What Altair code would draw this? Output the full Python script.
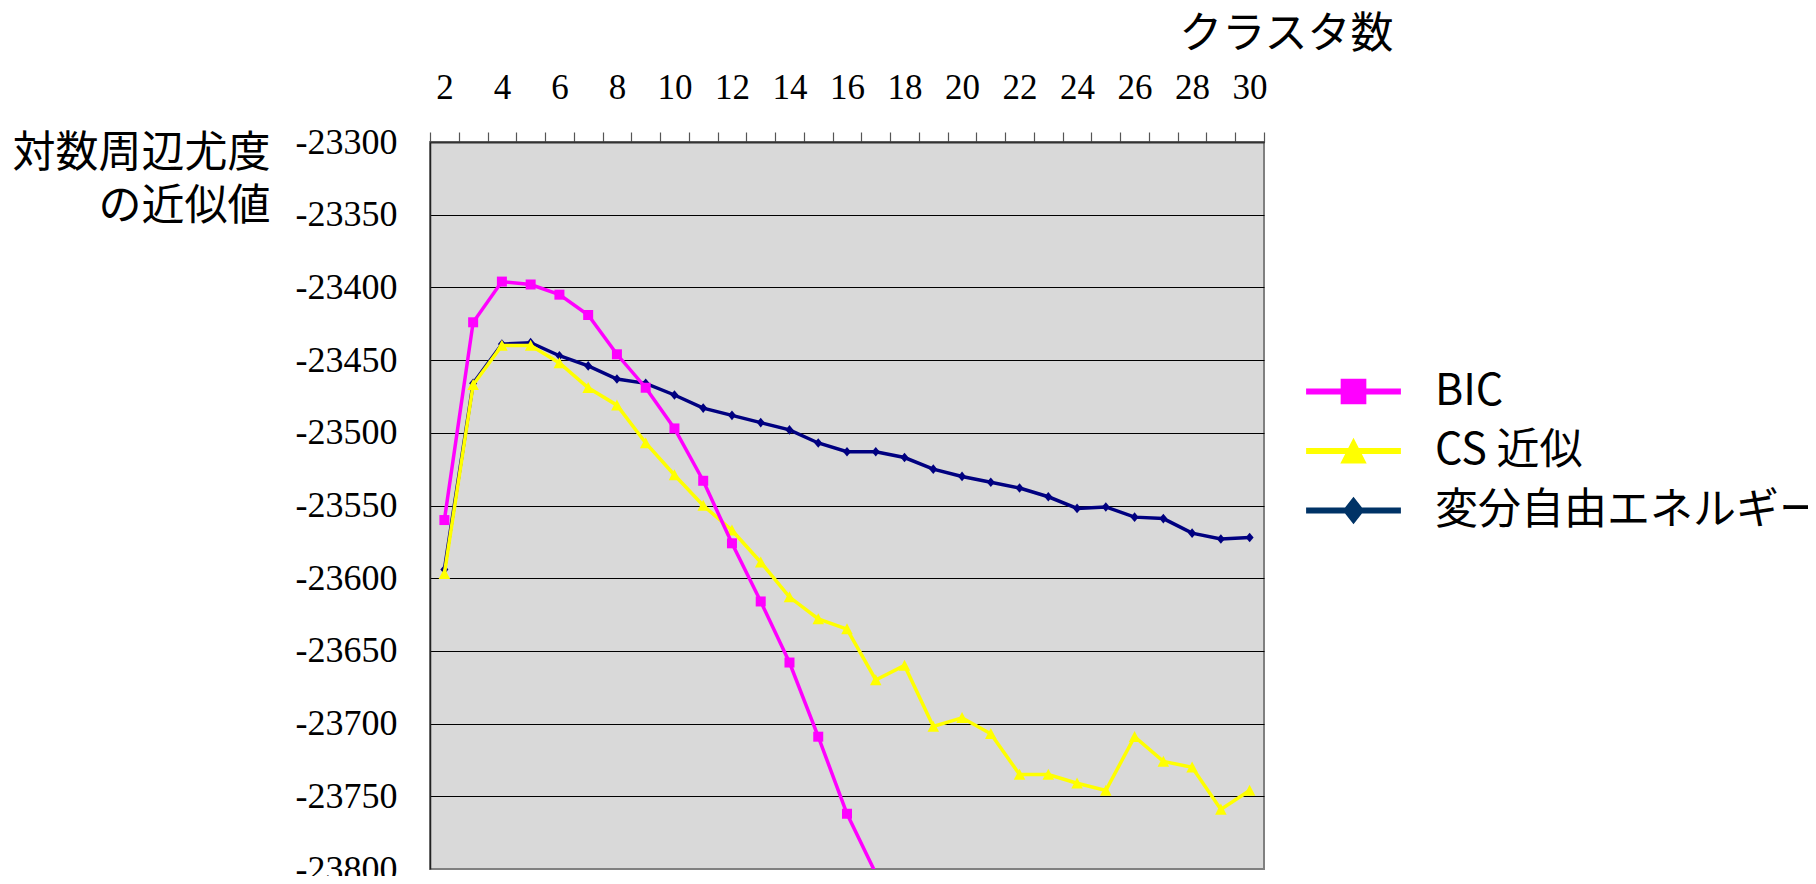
import altair as alt
import pandas as pd

# ---- data ----
clusters = list(range(2, 31))
series_names = ["BIC", "CS 近似", "変分自由エネルギー"]

bic = [-23560, -23424, -23396, -23398, -23405, -23419, -23446, -23469,
       -23497, -23533, -23576, -23616, -23658, -23709, -23762, -23803]
cs = [-23597, -23467, -23440, -23440, -23452, -23469, -23481, -23507,
      -23529, -23550, -23567, -23589, -23613, -23628, -23635, -23670,
      -23660, -23702, -23696, -23707, -23735, -23735, -23741, -23746,
      -23709, -23726, -23730, -23759, -23746]
vfe = [-23594, -23466, -23439, -23438, -23447, -23454, -23463, -23466,
       -23474, -23483, -23488, -23493, -23498, -23507, -23513, -23513,
       -23517, -23525, -23530, -23534, -23538, -23544, -23552, -23551,
       -23558, -23559, -23569, -23573, -23572]

y_ticks = list(range(-23800, -23299, 50))
y_title = ["対数周辺尤度", "の近似値"]
x_title = "クラスタ数"

# ---- styles ----
line_colors = ["#FF00FF", "#FFFF00", "#000080"]
legend_colors = ["#FF00FF", "#FFFF00", "#003366"]
marker_paths = [
    "M-1,-1H1V1H-1Z",
    "M0,-1.1L1.1,1L-1.1,1Z",
    "M0,-1.2L1,0L0,1.2L-1,0Z",
]
marker_sizes = [100, 110, 64]
legend_paths = [
    "M-3.95,-0.25H3.95V0.25H-3.95Z M-1.07,-1.07H1.07V1.07H-1.07Z",
    "M-3.95,-0.25H3.95V0.25H-3.95Z M0,-1.1L1.1,1.05L-1.1,1.05Z",
    "M-3.95,-0.25H3.95V0.25H-3.95Z M0,-1.15L0.9,0L0,1.15L-0.9,0Z",
]

rows = []
for name, vals in zip(series_names, [bic, cs, vfe]):
    for c, v in zip(clusters, vals):
        rows.append({"series": name, "clusters": c, "value": v})
df = pd.DataFrame(rows)

JP = "Noto Sans CJK JP"
SERIF = "Liberation Serif, Times New Roman, serif"

x_enc = alt.X(
    "clusters:O",
    scale=alt.Scale(type="band", domain=clusters, paddingInner=0, paddingOuter=0),
    axis=alt.Axis(
        orient="top", tickBand="extent",
        labelExpr="datum.value % 2 == 0 ? datum.label : ''",
        labelAngle=0, labelFont=SERIF, labelFontSize=35, labelColor="black",
        labelBaseline="alphabetic", labelPadding=34, labelOverlap=False,
        tickSize=10, tickColor="#555555", tickWidth=1.2,
        domainColor="#333333", domainWidth=2, grid=False,
        title=x_title, titleFont=JP, titleFontSize=43, titleFontWeight="normal",
        titleColor="black", titleAlign="right", titleAnchor="end",
        titleBaseline="alphabetic", titleX=963, titleY=-95,
    ),
)
y_enc = alt.Y(
    "value:Q",
    scale=alt.Scale(domain=[-23800, -23300], nice=False, zero=False),
    axis=alt.Axis(
        values=y_ticks, labelExpr="'' + datum.value",
        labelFont=SERIF, labelFontSize=36, labelColor="black", labelPadding=33,
        ticks=False, domainColor="#222222", domainWidth=1.5,
        grid=True, gridWidth=1.2,
        gridColor={"condition": {"test": "datum.value <= -23800", "value": "#808080"},
                   "value": "#000000"},
        title=y_title, titleFont=JP, titleFontSize=43, titleFontWeight="normal",
        titleColor="black", titleAngle=0, titleAlign="right",
        titleBaseline="alphabetic", titleX=-160, titleY=24, titleLineHeight=53,
    ),
)

base = alt.Chart(df)
layers = []
for idx in [2, 1, 0]:
    name = series_names[idx]
    sub = base.transform_filter(alt.datum.series == name)
    layers.append(
        sub.mark_line(color=line_colors[idx], strokeWidth=3.5, clip=True)
        .encode(x=x_enc, y=y_enc)
    )
    layers.append(
        sub.transform_filter(alt.datum.value >= -23800)
        .mark_point(filled=True, shape=marker_paths[idx], size=marker_sizes[idx],
                    color=line_colors[idx], opacity=1)
        .encode(x=x_enc, y=y_enc)
    )

legend_def = alt.Legend(
    orient="none", legendX=902, legendY=228, title=None,
    labelFont=JP, labelFontSize=43, labelColor="black", labelLimit=800,
    labelOffset=60, symbolOffset=0, symbolSize=576, symbolStrokeWidth=0,
    symbolOpacity=1, rowPadding=15.5, padding=0,
)
legend_layer = base.mark_point(filled=True, opacity=0).encode(
    x=x_enc, y=y_enc,
    color=alt.Color("series:N", scale=alt.Scale(domain=series_names, range=legend_colors),
                    legend=legend_def),
    shape=alt.Shape("series:N", scale=alt.Scale(domain=series_names, range=legend_paths),
                    legend=legend_def),
)
layers.append(legend_layer)

chart = (
    alt.layer(*layers)
    .properties(
        width=834, height=727,
        padding={"left": 422, "top": 134, "right": 544, "bottom": 7},
        autosize=alt.AutoSizeParams(type="none"),
        background="white",
    )
    .configure_view(fill="#D9D9D9", stroke="#808080", strokeWidth=2)
)

chart.save("out.html", embed_options={"renderer": "svg", "actions": False})
